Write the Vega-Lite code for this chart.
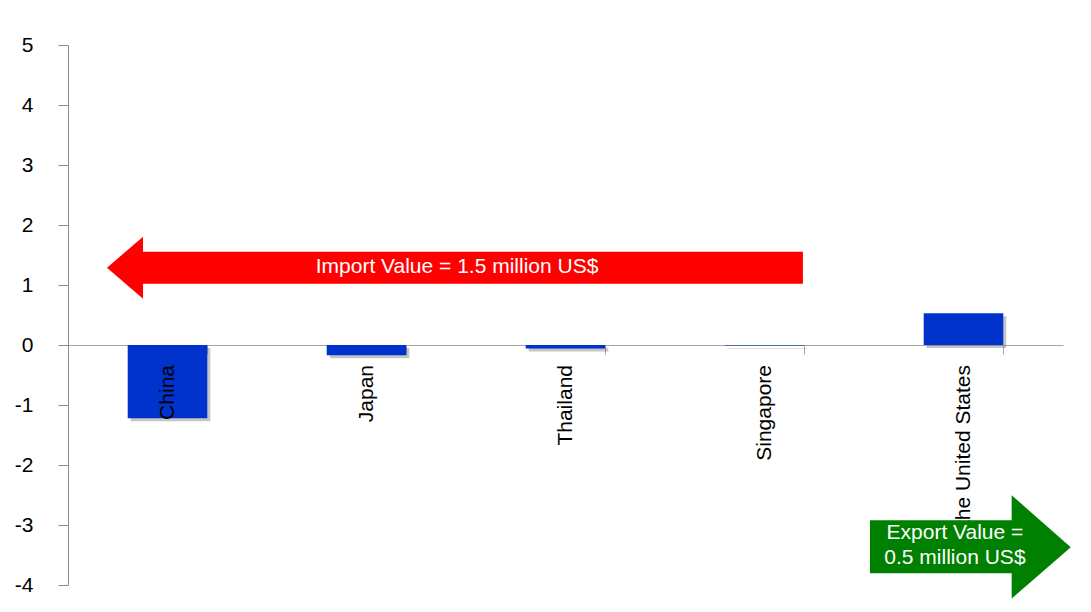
{
  "$schema": "https://vega.github.io/schema/vega-lite/v6.json",
  "width": 995,
  "height": 540,
  "autosize": {"type": "none"},
  "padding": {"left": 68, "top": 45, "right": 28, "bottom": 27},
  "background": "white",
  "config": {
    "view": {"stroke": null},
    "font": "Liberation Sans"
  },
  "datasets": {
    "trade": [
      {"country": "China", "value": -1.22},
      {"country": "Japan", "value": -0.17},
      {"country": "Thailand", "value": -0.06},
      {"country": "Singapore", "value": -0.01},
      {"country": "the United States", "value": 0.53}
    ],
    "importArrow": [
      {"px": 0.196, "top": 1.288, "bottom": 1.288},
      {"px": 0.377, "top": 1.805, "bottom": 0.771},
      {"px": 0.3771, "top": 1.555, "bottom": 1.021},
      {"px": 3.693, "top": 1.555, "bottom": 1.021}
    ],
    "exportArrow": [
      {"px": 4.03, "top": -2.921, "bottom": -3.806},
      {"px": 4.742, "top": -2.921, "bottom": -3.806},
      {"px": 4.7421, "top": -2.504, "bottom": -4.224},
      {"px": 5.039, "top": -3.372, "bottom": -3.372}
    ],
    "notes": [
      {"note": "Import Value = 1.5 million US$", "px": 1.955, "py": 1.293},
      {"note": "Export Value =", "px": 4.457, "py": -3.133},
      {"note": "0.5 million US$", "px": 4.457, "py": -3.55}
    ]
  },
  "layer": [
    {
      "data": {"name": "trade"},
      "encoding": {
        "x": {
          "field": "country",
          "type": "nominal",
          "sort": null,
          "scale": {"paddingInner": 0.6, "paddingOuter": 0.3},
          "axis": {
            "title": null,
            "labels": false,
            "offset": -240,
            "tickBand": "extent",
            "tickSize": 9,
            "tickColor": "#a6a6a6",
            "domainColor": "#a6a6a6",
            "zindex": 0
          }
        }
      },
      "layer": [
        {
          "mark": {"type": "bar", "color": "#6f6f6f", "opacity": 0.4, "xOffset": 3, "yOffset": 3, "y2Offset": 3},
          "encoding": {
            "y": {
              "field": "value",
              "type": "quantitative",
              "scale": {"domain": [-4, 5], "nice": false, "zero": true},
              "axis": {
                "title": null,
                "values": [-4, -3, -2, -1, 0, 1, 2, 3, 4, 5],
                "labelExpr": "'' + datum.value",
                "grid": false,
                "labelFont": "Liberation Sans",
                "labelFontSize": 21,
                "labelColor": "#000000",
                "labelPadding": 25,
                "tickSize": 10,
                "tickColor": "#8c8c8c",
                "domainColor": "#8c8c8c"
              }
            }
          }
        },
        {
          "mark": {"type": "bar", "color": "#0033cc"},
          "encoding": {
            "y": {"field": "value", "type": "quantitative"}
          }
        },
        {
          "mark": {"type": "text", "angle": 270, "align": "right", "baseline": "middle", "yOffset": 20, "fontSize": 21, "font": "Liberation Sans", "color": "#000000"},
          "encoding": {
            "y": {"datum": 0, "type": "quantitative"},
            "text": {"field": "country"}
          }
        }
      ]
    },
    {
      "layer": [
        {
          "data": {"name": "importArrow"},
          "mark": {"type": "area", "color": "#ff0000", "orient": "vertical", "interpolate": "linear", "opacity": 1},
          "encoding": {
            "x": {"field": "px", "type": "quantitative", "scale": {"domain": [0, 5], "nice": false, "zero": false}, "axis": null},
            "y": {"field": "top", "type": "quantitative", "stack": null},
            "y2": {"field": "bottom"}
          }
        },
        {
          "data": {"name": "exportArrow"},
          "mark": {"type": "area", "color": "#008000", "orient": "vertical", "interpolate": "linear", "opacity": 1},
          "encoding": {
            "x": {"field": "px", "type": "quantitative", "scale": {"domain": [0, 5], "nice": false, "zero": false}, "axis": null},
            "y": {"field": "top", "type": "quantitative", "stack": null},
            "y2": {"field": "bottom"}
          }
        },
        {
          "data": {"name": "notes"},
          "mark": {"type": "text", "align": "center", "baseline": "middle", "fontSize": 21, "font": "Liberation Sans", "color": "#ffffff"},
          "encoding": {
            "x": {"field": "px", "type": "quantitative", "scale": {"domain": [0, 5], "nice": false, "zero": false}, "axis": null},
            "y": {"field": "py", "type": "quantitative"},
            "text": {"field": "note"}
          }
        }
      ]
    }
  ],
  "resolve": {"scale": {"x": "independent"}}
}
